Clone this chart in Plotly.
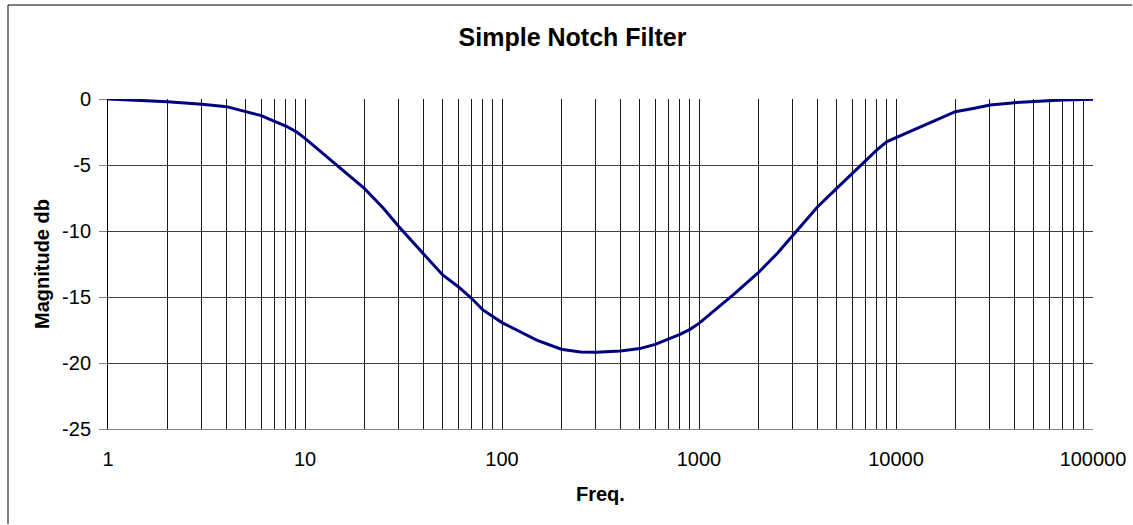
import plotly.graph_objects as go

# Frequency response of the notch filter (Hz, dB)
freq = [1, 2, 3, 4, 5, 6, 7, 8, 9, 10,
        15, 20, 25, 30, 40, 50, 60, 70, 80, 90, 100,
        150, 200, 250, 300, 400, 500, 600, 700, 800, 900, 1000,
        1500, 2000, 2500, 3000, 4000, 5000, 6000, 7000, 8000, 9000, 10000,
        15000, 20000, 25000, 30000, 40000, 50000, 60000, 70000, 80000, 90000, 100000]
magnitude_db = [0.0, -0.2, -0.4, -0.58, -0.96, -1.26, -1.69, -2.05, -2.47, -2.98,
                -5.2, -6.77, -8.28, -9.67, -11.75, -13.33, -14.22, -15.1, -15.98, -16.49, -16.94,
                -18.26, -18.96, -19.16, -19.19, -19.09, -18.91, -18.59, -18.18, -17.83, -17.45, -17.0,
                -14.8, -13.16, -11.69, -10.3, -8.16, -6.77, -5.63, -4.62, -3.86, -3.23, -2.93,
                -1.72, -0.96, -0.7, -0.45, -0.28, -0.18, -0.1, -0.07, -0.05, -0.03, -0.02]

x_ticks = [1, 10, 100, 1000, 10000, 100000]
x_tick_text = ["1", "10", "100", "1000", "10000", "100000"]
x_minor = [m * d for d in [1, 10, 100, 1000, 10000] for m in range(2, 10)]
y_ticks = [0, -5, -10, -15, -20, -25]
y_tick_text = ["0", "-5", "-10", "-15", "-20", "-25"]

FONT = "Arial, Liberation Sans, sans-serif"

fig = go.Figure()
fig.add_trace(go.Scatter(
    x=freq, y=magnitude_db, mode="lines",
    line=dict(color="#000080", width=3),
    showlegend=False, hoverinfo="x+y",
))

W, H = 1133, 525
L, R, T, B = 108, 40, 99, 96
pw, ph = W - L - R, H - T - B

fig.update_layout(
    width=W, height=H, autosize=False,
    margin=dict(l=L, r=R, t=T, b=B),
    paper_bgcolor="white", plot_bgcolor="white",
    font=dict(family=FONT, color="black"),
    title=dict(text="<b>Simple Notch Filter</b>", font=dict(size=25, family=FONT, color="black"),
               x=572.5 / W, xref="container", xanchor="center",
               y=1 - 37 / H, yref="container", yanchor="middle"),
    showlegend=False,
)

fig.update_xaxes(
    type="log", range=[0, 5], automargin=False,
    tickmode="array", tickvals=x_ticks, ticktext=x_tick_text,
    tickfont=dict(size=20, family=FONT, color="black"),
    ticks="", ticklabelstandoff=12,
    showgrid=True, gridcolor="#1a1a1a", gridwidth=1,
    minor=dict(tickvals=x_minor, showgrid=True, gridcolor="#1a1a1a", gridwidth=1, ticks=""),
    showline=True, linecolor="#808080", linewidth=1,
    zeroline=False,
)
fig.update_yaxes(
    range=[-25, 0], tickmode="array", tickvals=y_ticks, ticktext=y_tick_text, automargin=False,
    tickfont=dict(size=20, family=FONT, color="black"),
    ticks="outside", ticklen=8, tickcolor="#808080", tickwidth=1, ticklabelstandoff=4,
    showgrid=True, gridcolor="#404040", gridwidth=1,
    showline=True, linecolor="black", linewidth=1,
    zeroline=False,
)

# Axis titles
fig.add_annotation(text="<b>Magnitude db</b>", textangle=-90, showarrow=False,
                   xref="paper", yref="paper", x=(42 - L) / pw, y=0.5,
                   xanchor="center", yanchor="middle",
                   font=dict(size=20, family=FONT, color="black"))
fig.add_annotation(text="<b>Freq.</b>", showarrow=False,
                   xref="paper", yref="paper", x=0.5, y=(H - B - 494) / ph,
                   xanchor="center", yanchor="middle",
                   font=dict(size=20, family=FONT, color="black"))

# Chart-area border: left and top edges
border = dict(color="black", width=1)
fig.add_shape(type="line", xref="paper", yref="paper", layer="above",
              x0=(8 - L) / pw, x1=(8 - L) / pw,
              y0=(H - B - (H - 1)) / ph, y1=(H - B - 5) / ph, line=border)
fig.add_shape(type="line", xref="paper", yref="paper", layer="above",
              x0=(8 - L) / pw, x1=(W - 1 - L) / pw,
              y0=(H - B - 5) / ph, y1=(H - B - 5) / ph, line=border)

fig.write_html("out.html")
